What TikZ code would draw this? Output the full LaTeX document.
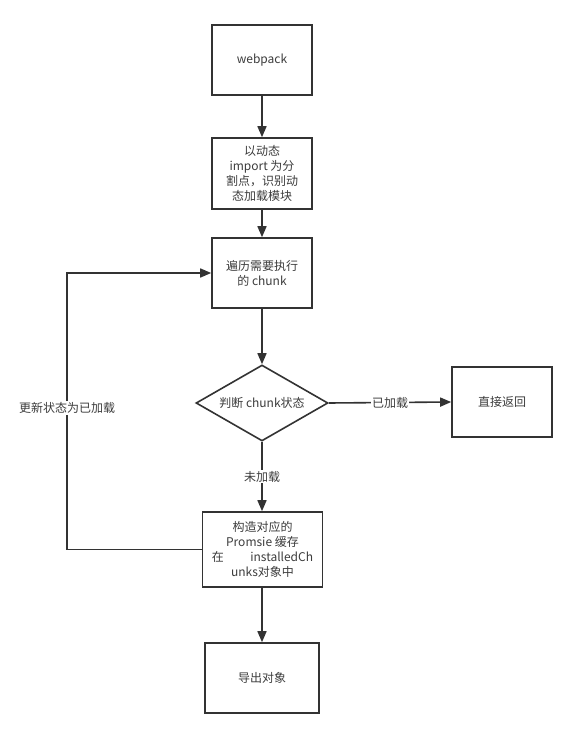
\documentclass[tikz,border=0pt]{standalone}
\usepackage{fontspec}
\setmainfont{Noto Sans CJK SC}
\usetikzlibrary{positioning,arrows.meta,shapes.geometric}
\definecolor{linegray}{RGB}{51,51,51}
\definecolor{textgray}{RGB}{60,60,60}

\begin{document}
\begin{tikzpicture}[x=1pt, y=-1pt, font=\fontsize{12}{15}\selectfont,
  box/.style={draw=linegray, line width=1.6pt, fill=white, text=textgray,
    align=center, inner sep=2pt, minimum width=100pt, minimum height=70pt},
  decision/.style={draw=linegray, line width=1.6pt, fill=white, text=textgray,
    diamond, aspect=1.74, inner sep=0pt, minimum width=132pt, minimum height=76pt},
  flow/.style={draw=linegray, line width=1.6pt, -{Triangle[length=11pt,width=9pt]}},
  tag/.style={fill=white, text=textgray, inner sep=1pt}]
  % Page
  \useasboundingbox[fill=white] (0,0) rectangle (576,738);

  % Steps
  \node[box] (webpack) at (262,60) {webpack};
  \node[box, minimum height=71pt] (split) at (262,173.5) {以动态\\import 为分\\割点，识别动\\态加载模块};
  \node[box] (loop) at (262,273) {遍历需要执行\\的 chunk};
  \node[decision] (check) at (262,403) {判断 chunk状态};
  \node[box] (ret) at (502,402) {直接返回};
  \node[box, minimum width=120pt, minimum height=75pt] (build) at (262.5,549.5)
    {构造对应的\\Promsie 缓存\\在\hspace{2.2em}installedCh\\unks对象中};
  \node[box, minimum width=114pt] (export) at (262,678) {导出对象};

  % Connectors
  \draw[flow] (webpack) -- (split);
  \draw[flow] (split) -- (loop);
  \draw[flow] (loop) -- (check);
  \draw[flow] (check.east) -- node[tag] {已加载} (ret.west);
  \draw[flow] (check.south) -- node[tag] {未加载} (check.south |- build.north);
  \draw[flow] (export.north |- build.south) -- (export.north);

  % Back edge
  \coordinate (back) at (67,408);
  \draw[flow] (build.west) -| (back) node[tag] {更新状态为已加载} |- (loop.west);
\end{tikzpicture}
\end{document}
